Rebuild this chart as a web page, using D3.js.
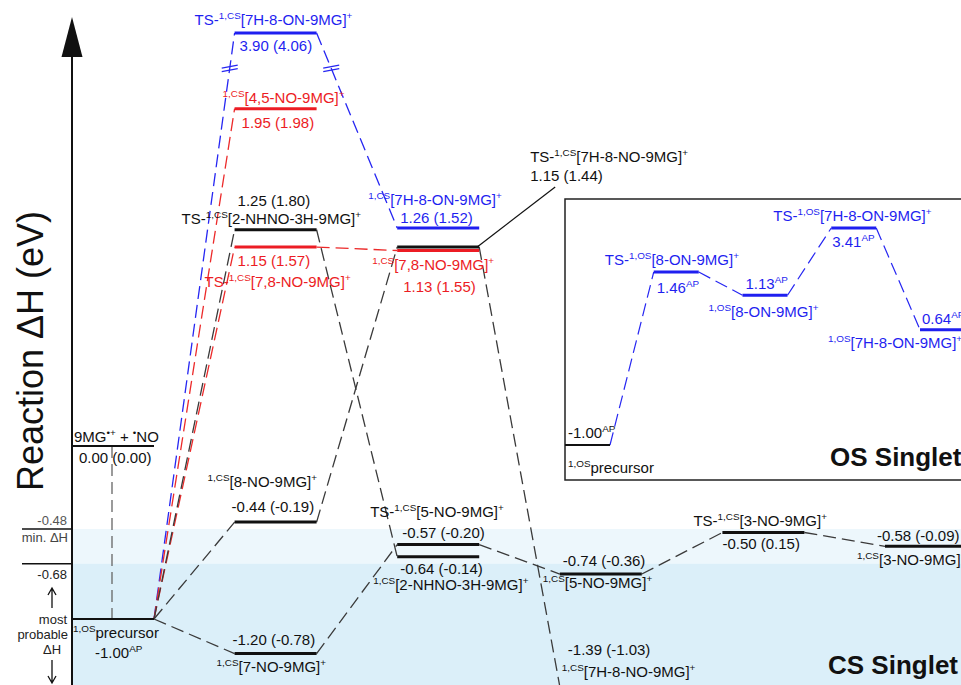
<!DOCTYPE html>
<html><head><meta charset="utf-8">
<script src="https://cdn.jsdelivr.net/npm/d3@7"></script>
<style>
body{margin:0;background:#fff}
svg{display:block}
text{font-family:"Liberation Sans",Arial,Helvetica,sans-serif}
</style>
</head><body>
<svg id="chart" width="961" height="685"></svg>
<script>
// ---- CS singlet surface: stationary points ----
const levelIds    = ["rad","pre","ts7h8on","n45","ts2nhno","ts78no","no8","no7","on7h8","ts7h8no","no78","ts5no","nhno2","no5","no7h8","ts3no","no3"];
const levelCols   = [0,0,1,1,1,1,1,1,2,2,2,2,2,3,3,4,5];
const levelDH     = [0.00,-1.00,3.90,1.95,1.25,1.15,-0.44,-1.20,1.26,1.15,1.13,-0.57,-0.64,-0.74,-1.39,-0.50,-0.58];
const levelAlt    = [0.00,null,4.06,1.98,1.80,1.57,-0.19,-0.78,1.52,1.44,1.55,-0.20,-0.14,-0.36,-1.03,0.15,-0.09];
const levelSeries = ["cs","cs","blue","red","cs","red","cs","cs","blue","cs","red","cs","cs","cs","cs","cs","cs"];
const levelNames  = [
  "9MG^{•+} + ^{•}NO","^{1,OS}precursor","TS-^{1,CS}[7H-8-ON-9MG]^{+}","^{1,CS}[4,5-NO-9MG]^{+}",
  "TS-^{1,CS}[2-NHNO-3H-9MG]^{+}","TS-^{1,CS}[7,8-NO-9MG]^{+}","^{1,CS}[8-NO-9MG]^{+}","^{1,CS}[7-NO-9MG]^{+}",
  "^{1,CS}[7H-8-ON-9MG]^{+}","TS-^{1,CS}[7H-8-NO-9MG]^{+}","^{1,CS}[7,8-NO-9MG]^{+}","TS-^{1,CS}[5-NO-9MG]^{+}",
  "^{1,CS}[2-NHNO-3H-9MG]^{+}","^{1,CS}[5-NO-9MG]^{+}","^{1,CS}[7H-8-NO-9MG]^{+}","TS-^{1,CS}[3-NO-9MG]^{+}",
  "^{1,CS}[3-NO-9MG]^{+}"
];
// reaction paths (from -> to)
const linkFrom  = ["pre","ts7h8on","pre","pre","ts78no","pre","ts2nhno","pre","no8","ts7h8no","pre","no7","ts5no","no5","ts3no"];
const linkTo    = ["ts7h8on","on7h8","n45","ts78no","no78","ts2nhno","nhno2","no8","ts7h8no","no7h8","no7","ts5no","no5","ts3no","no3"];
const linkBreak = [true,true,false,false,false,false,false,false,false,false,false,false,false,false,false];

// threshold marks on the energy axis
const thresholdValues = [-0.48,-0.68];

// ---- OS singlet surface ----
const osIds   = ["pre","ts8on","on8","ts7h8on","on7h8"];
const osDH    = [-1.00,1.46,1.13,3.41,0.64];
const osNames = ["^{1,OS}precursor","TS-^{1,OS}[8-ON-9MG]^{+}","^{1,OS}[8-ON-9MG]^{+}","TS-^{1,OS}[7H-8-ON-9MG]^{+}","^{1,OS}[7H-8-ON-9MG]^{+}"];

// ---- layout ----
const W = 961, H = 685;
const axisX = 72, barW = 82;
const colors = {cs:"#111", blue:"#1f1ff0", red:"#ec1c24"};
const linkColors = {cs:"#3a3a3a", blue:"#2626f2", red:"#ec2a2a"};

// broken energy axis: compressed above the break
const y = d3.scaleLinear().domain([-1.5, 2.2, 3.9]).range([705.5, 65.4, 33]);
const x = d3.scaleLinear().domain([0, 5]).range([axisX, 885]);
const yOS = d3.scaleLinear().domain([-1.0, 1.5, 3.41]).range([445, 269.2, 228]);
const xOS = d3.scaleLinear().domain([0, 4]).range([565, 920]);
const osBarW = 45;

// label offsets relative to each bar's left end / level
const nameOff = {
  rad:[2,-4], pre:[1,19], ts7h8on:[-40,-8], n45:[-12,-6], ts2nhno:[-53,-6], ts78no:[-30,40],
  no8:[-27,-35], no7:[-18,18], on7h8:[-29,-23], ts7h8no:[133,-85], no78:[-25,19.5],
  ts5no:[-27,-28], nhno2:[-24,33], no5:[-17,14], no7h8:[2,-9.5], ts3no:[-29,-6.5], no3:[-28,19]
};
const valOff = {
  rad:[7,17], pre:[23,39], ts7h8on:[5,18], n45:[7,19], ts2nhno:[3,-24], ts78no:[3,19],
  no8:[-3,-10], no7:[-2,-9], on7h8:[3,-5], ts7h8no:[133,-66], no78:[6,41],
  ts5no:[5,-7], nhno2:[3,17], no5:[3,-8], no7h8:[8,-31], ts3no:[0,16.5], no3:[-8,-5]
};
const osNameOff = {pre:[3,28], ts8on:[-49,-7], on8:[-34,22], ts7h8on:[-58,-7], on7h8:[-92,18]};
const osValOff  = {pre:[3,-7], ts8on:[3,21], on8:[3,-6], ts7h8on:[1,19], on7h8:[2,-6]};

const fmt = v => v.toFixed(2);
const svg = d3.select("#chart");

// rich text with ^{...} superscripts
function rich(sel, str, size) {
  const parts = str.split(/(\^\{[^}]*\})/).filter(s => s.length);
  let up = false;
  parts.forEach(p => {
    const sup = p.startsWith("^{");
    const t = sel.append("tspan").text(sup ? p.slice(2, -1) : p);
    if (sup) {
      t.attr("font-size", size * 0.66);
      if (!up) t.attr("dy", -6);
      up = true;
    } else {
      if (up) t.attr("dy", 6);
      up = false;
    }
  });
  return sel;
}
function label(g, px, py, str, fill, size) {
  const t = g.append("text").attr("x", px).attr("y", py).attr("fill", fill).attr("font-size", size);
  return rich(t, str, size);
}

// ---- background bands ----
svg.append("rect").attr("x", axisX).attr("y", y(thresholdValues[0]))
  .attr("width", W - axisX).attr("height", y(thresholdValues[1]) - y(thresholdValues[0]))
  .attr("fill", "#edf7fc");
svg.append("rect").attr("x", axisX).attr("y", y(thresholdValues[1]))
  .attr("width", W - axisX).attr("height", H - y(thresholdValues[1]))
  .attr("fill", "#dbeff9");

// ---- energy axis ----
const axisG = svg.append("g");
axisG.append("line").attr("x1", axisX).attr("x2", axisX).attr("y1", 55).attr("y2", H)
  .attr("stroke", "#111").attr("stroke-width", 2);
axisG.append("path").attr("d", `M${axisX},17 L${axisX - 10.5},57 L${axisX + 10.5},57 Z`).attr("fill", "#111");
axisG.append("text").attr("transform", "translate(43,351) rotate(-90)")
  .attr("text-anchor", "middle").attr("font-size", 36).attr("fill", "#111").text("Reaction ΔH (eV)");

thresholdValues.forEach(v => {
  axisG.append("line").attr("x1", 22).attr("x2", axisX).attr("y1", y(v)).attr("y2", y(v))
    .attr("stroke", "#111").attr("stroke-width", 1.5);
});
axisG.append("text").attr("x", 67).attr("y", y(-0.48) - 4).attr("text-anchor", "end")
  .attr("font-size", 13).attr("fill", "#555").text(fmt(-0.48));
axisG.append("text").attr("x", 68).attr("y", y(-0.48) + 13).attr("text-anchor", "end")
  .attr("font-size", 13).attr("fill", "#444").text("min. ΔH");
axisG.append("text").attr("x", 67).attr("y", y(-0.68) + 15).attr("text-anchor", "end")
  .attr("font-size", 13).attr("fill", "#222").text(fmt(-0.68));
// most probable range arrows
const ax = 52;
axisG.append("path").attr("d", `M${ax},608 L${ax},589 M${ax - 4},595 L${ax},588 L${ax + 4},595`)
  .attr("fill", "none").attr("stroke", "#111").attr("stroke-width", 1.3);
axisG.append("path").attr("d", `M${ax},660 L${ax},683 M${ax - 4},676 L${ax},683 L${ax + 4},676`)
  .attr("fill", "none").attr("stroke", "#111").attr("stroke-width", 1.3);
[["most", 67, "end"], ["probable", 68, "end"], ["ΔH", 52, "middle"]].forEach((s, i) => {
  axisG.append("text").attr("x", s[1]).attr("y", 624 + i * 15).attr("text-anchor", s[2])
    .attr("font-size", 13).attr("fill", "#222").text(s[0]);
});

// ---- OS singlet inset ----
const inset = svg.append("g");
inset.append("rect").attr("x", 565).attr("y", 199).attr("width", 430).attr("height", 281)
  .attr("fill", "#fff").attr("stroke", "#222").attr("stroke-width", 1.5);
for (let i = 0; i < osIds.length - 1; i++) {
  inset.append("line")
    .attr("x1", xOS(i) + osBarW).attr("y1", yOS(osDH[i]))
    .attr("x2", xOS(i + 1)).attr("y2", yOS(osDH[i + 1]))
    .attr("stroke", linkColors.blue).attr("stroke-width", 1.2).attr("stroke-dasharray", "13,6");
}
osIds.forEach((id, i) => {
  const c = i === 0 ? colors.cs : colors.blue;
  inset.append("line").attr("x1", xOS(i)).attr("x2", xOS(i) + osBarW)
    .attr("y1", yOS(osDH[i])).attr("y2", yOS(osDH[i]))
    .attr("stroke", c).attr("stroke-width", i === 0 ? 2 : 3);
  const no = osNameOff[id], vo = osValOff[id];
  label(inset, xOS(i) + no[0], yOS(osDH[i]) + no[1], osNames[i], c, 15);
  label(inset, xOS(i) + vo[0], yOS(osDH[i]) + vo[1], fmt(osDH[i]) + "^{AP}", c, 15);
});
inset.append("text").attr("x", 830).attr("y", 466).attr("font-size", 26).attr("font-weight", "bold")
  .attr("fill", "#111").text("OS Singlet");

// ---- CS surface ----
const idx = {};
levelIds.forEach((id, i) => idx[id] = i);
const bx = i => x(levelCols[i]);
const by = i => y(levelDH[i]);

const linkG = svg.append("g");
// vertical guide between the separated reactants and the precursor
linkG.append("line").attr("x1", 112).attr("x2", 112)
  .attr("y1", by(idx.rad)).attr("y2", by(idx.pre))
  .attr("stroke", "#666").attr("stroke-width", 1.3).attr("stroke-dasharray", "12,6");

linkFrom.forEach((f, k) => {
  const a = idx[f], b = idx[linkTo[k]];
  const ser = levelSeries[b] === "cs" && levelSeries[a] === "cs" ? "cs" : (levelSeries[b] !== "cs" ? levelSeries[b] : levelSeries[a]);
  const x1 = bx(a) + barW, y1 = by(a), x2 = bx(b), y2 = by(b);
  linkG.append("line").attr("x1", x1).attr("y1", y1).attr("x2", x2).attr("y2", y2)
    .attr("stroke", linkColors[ser]).attr("stroke-width", 1.3).attr("stroke-dasharray", "13,6");
  if (linkBreak[k]) {
    // axis-break marks where the path crosses the compressed region
    const yb = y(2.2) + 3;
    const t = (yb - y1) / (y2 - y1);
    const xb = x1 + t * (x2 - x1);
    [-1.8, 1.8].forEach(o => {
      linkG.append("line").attr("x1", xb - 8).attr("y1", yb + o + 1.5).attr("x2", xb + 8).attr("y2", yb + o - 1.5)
        .attr("stroke", linkColors.blue).attr("stroke-width", 1.2);
    });
  }
});

// leader line to the TS-7H-8-NO label
const iL = idx.ts7h8no;
linkG.append("line").attr("x1", bx(iL) + barW - 2).attr("y1", by(iL))
  .attr("x2", bx(iL) + nameOff.ts7h8no[0] + 25).attr("y2", by(iL) + valOff.ts7h8no[1] + 6)
  .attr("stroke", "#111").attr("stroke-width", 1.2);

const barG = svg.append("g");
// draw black bars first so coloured ones stay visible where they overlap
const order = levelIds.map((d, i) => i).sort((a, b) => {
  const r = i => (levelIds[i] === "ts7h8no" ? 2 : levelSeries[i] === "cs" ? 0 : 1);
  return r(a) - r(b);
});
order.forEach(i => {
  barG.append("line").attr("x1", bx(i)).attr("x2", bx(i) + barW)
    .attr("y1", by(i)).attr("y2", by(i))
    .attr("stroke", colors[levelSeries[i]]).attr("stroke-width", levelCols[i] === 0 ? 2 : 3);
});

const textG = svg.append("g");
levelIds.forEach((id, i) => {
  const c = colors[levelSeries[i]];
  const no = nameOff[id], vo = valOff[id];
  label(textG, bx(i) + no[0], by(i) + no[1], levelNames[i], c, 15);
  const v = levelAlt[i] === null ? fmt(levelDH[i]) + "^{AP}" : fmt(levelDH[i]) + " (" + fmt(levelAlt[i]) + ")";
  label(textG, bx(i) + vo[0], by(i) + vo[1], v, c, 15);
});

svg.append("text").attr("x", 828).attr("y", 674).attr("font-size", 26).attr("font-weight", "bold")
  .attr("fill", "#111").text("CS Singlet");
</script>
</body></html>
